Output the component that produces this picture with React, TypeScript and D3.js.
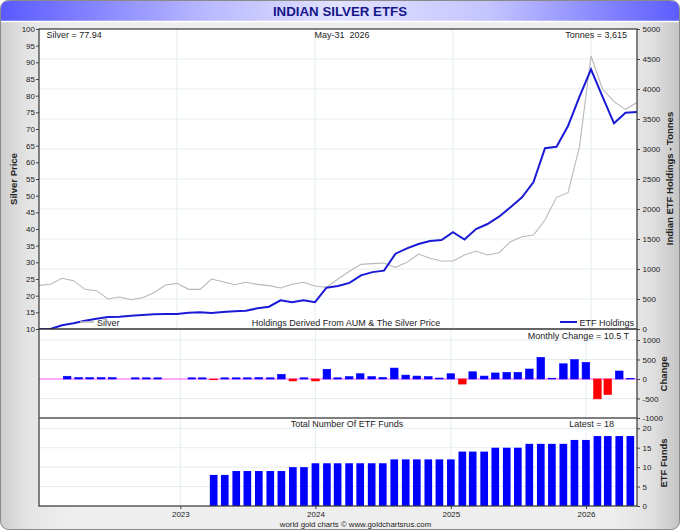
import React, { useEffect, useRef } from "react";
import {
    axisBottom,
    axisLeft,
    axisRight,
    line,
    range,
    scaleLinear,
    scalePoint,
    scaleTime,
    select,
    Selection,
    timeFormat,
} from "d3";

const WIDTH = 680;
const HEIGHT = 531;
const LEFT = 39;
const RIGHT = 637;
const TOP = 29;
const MAIN_BOTTOM = 329;
const CHANGE_BOTTOM = 418;
const FUNDS_BOTTOM = 506;
const FONT = "Arial, 'Liberation Sans', sans-serif";

// month-end values, Jan 2022 .. May 2026
const lineMonths = [
    "2022-01", "2022-02", "2022-03", "2022-04", "2022-05", "2022-06", "2022-07", "2022-08", "2022-09", "2022-10", "2022-11", "2022-12",
    "2023-01", "2023-02", "2023-03", "2023-04", "2023-05", "2023-06", "2023-07", "2023-08", "2023-09", "2023-10", "2023-11", "2023-12",
    "2024-01", "2024-02", "2024-03", "2024-04", "2024-05", "2024-06", "2024-07", "2024-08", "2024-09", "2024-10", "2024-11", "2024-12",
    "2025-01", "2025-02", "2025-03", "2025-04", "2025-05", "2025-06", "2025-07", "2025-08", "2025-09", "2025-10", "2025-11", "2025-12",
    "2026-01", "2026-02", "2026-03", "2026-04", "2026-05",
];

const silverPrice = [
    23.1, 23.4, 25.2, 24.5, 21.9, 21.5, 19.0, 19.6, 18.8, 19.4, 20.9, 23.2,
    23.7, 21.9, 21.9, 25.0, 24.2, 23.3, 24.0, 23.4, 23.0, 22.3, 23.4, 24.0,
    22.9, 22.5, 25.0, 27.3, 29.4, 29.6, 29.8, 28.5, 30.0, 32.5, 31.2, 30.4,
    30.4, 32.2, 33.4, 32.2, 32.9, 36.2, 37.7, 38.2, 42.7, 49.5, 50.9, 64.7,
    91.9, 82.0, 78.2, 75.9, 77.94,
];

const holdings = [
    0, 0, 62, 95, 138, 172, 200, 205, 222, 233, 245, 250,
    250, 272, 278, 267, 283, 295, 305, 345, 372, 478, 445, 480,
    448, 688, 717, 768, 895, 948, 972, 1255, 1345, 1417, 1467, 1483,
    1615, 1492, 1665, 1750, 1872, 2030, 2195, 2450, 3012, 3038, 3383, 3872,
    4328, 3872, 3428, 3605, 3615,
];

// Mar 2022 .. May 2026
const changeMonths = lineMonths.slice(2);
const monthlyChange = [
    70, 35, 35, 35, 35, 0, 30, 30, 30, 0,
    0, 30, 30, -20, 30, 30, 30, 35, 30, 120, -50, 30,
    -50, 250, 30, 60, 135, 60, 40, 280, 100, 75, 60, 25,
    135, -130, 185, 75, 155, 170, 170, 256, 555, 20, 390, 495,
    425, -510, -400, 205, 10.5,
];

// Apr 2023 .. May 2026
const fundMonths = lineMonths.slice(15);
const fundCount = [
    8, 8, 9, 9, 9, 9, 9, 10, 10,
    11, 11, 11, 11, 11, 11, 11, 12, 12, 12, 12, 12,
    12, 14, 14, 14, 15, 15, 15, 16, 16, 16, 16, 17,
    17, 18, 18, 18, 18,
];

const silverTicks = range(10, 101, 5);
const tonneTicks = range(0, 5001, 500);
const changeTicks = [-1000, -500, 0, 500, 1000];
const fundTicks = [0, 5, 10, 15, 20];
const yearTicks = ["2023-01", "2024-01", "2025-01", "2026-01"];

const toDate = (m: string) => new Date(+m.slice(0, 4), +m.slice(5, 7) - 1, 1);

const xLine = scalePoint<string>().domain(lineMonths).range([LEFT, RIGHT]);
const xTime = scaleTime()
    .domain([new Date(2021, 11, 15), new Date(2026, 4, 19)])
    .range([LEFT, RIGHT]);
const ySilver = scaleLinear().domain([10, 100]).range([MAIN_BOTTOM, TOP]);
const yTonnes = scaleLinear().domain([0, 5000]).range([MAIN_BOTTOM, TOP]);
const yChange = scaleLinear().domain([-1000, 1282]).range([CHANGE_BOTTOM, MAIN_BOTTOM]);
const yFunds = scaleLinear().domain([0, 22.65]).range([FUNDS_BOTTOM, CHANGE_BOTTOM]);

const BAR_W = ((xTime(toDate("2024-01")) - xTime(toDate("2023-01"))) / 12) * 0.68;

type G = Selection<SVGGElement, unknown, null, undefined>;

const styleAxis = (g: G) => {
    g.select(".domain").remove();
    g.selectAll("line").attr("stroke", "#444");
    g.selectAll("text").attr("fill", "#222").attr("font-size", 8).attr("font-family", FONT);
};

const App = () => {
    const axesRef = useRef<SVGGElement>(null);

    useEffect(() => {
        const g = select(axesRef.current) as G;
        g.selectAll("*").remove();

        const left = g.append("g").attr("transform", `translate(${LEFT},0)`);
        left.call(axisLeft(ySilver).tickValues(silverTicks).tickSize(3).tickPadding(1));
        styleAxis(left);

        const right = g.append("g").attr("transform", `translate(${RIGHT},0)`);
        right.call(axisRight(yTonnes).tickValues(tonneTicks).tickSize(3).tickPadding(2.5).tickFormat(d => String(d)));
        styleAxis(right);

        const rightChange = g.append("g").attr("transform", `translate(${RIGHT},0)`);
        rightChange.call(axisRight(yChange).tickValues(changeTicks).tickSize(3).tickPadding(2.5).tickFormat(d => String(d)));
        styleAxis(rightChange);

        const rightFunds = g.append("g").attr("transform", `translate(${RIGHT},0)`);
        rightFunds.call(axisRight(yFunds).tickValues(fundTicks).tickSize(3).tickPadding(2.5).tickFormat(d => String(d)));
        styleAxis(rightFunds);

        const bottom = g.append("g").attr("transform", `translate(0,${FUNDS_BOTTOM})`);
        bottom.call(
            axisBottom(xTime)
                .tickValues(yearTicks.map(toDate))
                .tickSize(3)
                .tickPadding(2)
                .tickFormat(d => timeFormat("%Y")(d as Date)),
        );
        styleAxis(bottom);
    }, []);

    const silverLine = line<number>()
        .x((_, i) => xLine(lineMonths[i]) as number)
        .y(d => ySilver(d));
    const holdingsLine = line<number>()
        .x((_, i) => xLine(lineMonths[i]) as number)
        .y(d => yTonnes(d));

    const gridColor = "#e3edf0";

    return (
        <svg
            width={WIDTH}
            height={HEIGHT}
            style={{ position: "absolute", left: 0, top: 0, fontFamily: FONT }}
        >
            <defs>
                <linearGradient id="bg" x1="0" x2="1" y1="0" y2="0">
                    <stop offset="0%" stopColor="#cdcdcd" />
                    <stop offset="4%" stopColor="#e4e4e4" />
                    <stop offset="10%" stopColor="#eeeeee" />
                    <stop offset="90%" stopColor="#eeeeee" />
                    <stop offset="96%" stopColor="#e0e0e0" />
                    <stop offset="100%" stopColor="#c4c4c4" />
                </linearGradient>
                <linearGradient id="titleBg" x1="0" x2="1" y1="0" y2="0">
                    <stop offset="0%" stopColor="#5a5aff" />
                    <stop offset="30%" stopColor="#b8b8ff" />
                    <stop offset="50%" stopColor="#e2e2ff" />
                    <stop offset="72%" stopColor="#c4c4ff" />
                    <stop offset="100%" stopColor="#5c5cff" />
                </linearGradient>
                <clipPath id="mainClip">
                    <rect x={LEFT} y={TOP} width={RIGHT - LEFT} height={MAIN_BOTTOM - TOP} />
                </clipPath>
            </defs>

            {/* frame */}
            <rect x={0.5} y={0.5} width={WIDTH - 1} height={HEIGHT - 2} rx={8} fill="url(#bg)" stroke="#8a8a8a" />
            <path
                d={`M1,21 L1,9 Q1,1 9,1 L${WIDTH - 9},1 Q${WIDTH - 1},1 ${WIDTH - 1},9 L${WIDTH - 1},21 Z`}
                fill="url(#titleBg)"
            />
            <line x1={1} x2={WIDTH - 1} y1={21.5} y2={21.5} stroke="#ffffff" strokeWidth={1.5} />
            <text x={340} y={15.5} textAnchor="middle" fontSize={13.3} fontWeight="bold" fill="#17178a">
                INDIAN SILVER ETFS
            </text>

            {/* panels */}
            <rect x={LEFT} y={TOP} width={RIGHT - LEFT} height={FUNDS_BOTTOM - TOP} fill="#ffffff" />

            {/* main grid */}
            {tonneTicks.slice(1, -1).map(t => (
                <line key={`hg${t}`} x1={LEFT} x2={RIGHT} y1={yTonnes(t)} y2={yTonnes(t)} stroke={gridColor} />
            ))}
            {yearTicks.map(m => (
                <line key={`vg${m}`} x1={xLine(m)} x2={xLine(m)} y1={TOP} y2={MAIN_BOTTOM} stroke={gridColor} />
            ))}

            {/* lower grids */}
            {[-500, 500, 1000].map(t => (
                <line key={`cg${t}`} x1={LEFT} x2={RIGHT} y1={yChange(t)} y2={yChange(t)} stroke={gridColor} />
            ))}
            {fundTicks.slice(1).map(t => (
                <line key={`fg${t}`} x1={LEFT} x2={RIGHT} y1={yFunds(t)} y2={yFunds(t)} stroke={gridColor} />
            ))}
            {yearTicks.map(m => (
                <line
                    key={`lvg${m}`}
                    x1={xTime(toDate(m))}
                    x2={xTime(toDate(m))}
                    y1={MAIN_BOTTOM}
                    y2={FUNDS_BOTTOM}
                    stroke={gridColor}
                />
            ))}

            {/* main lines */}
            <g clipPath="url(#mainClip)">
                <path d={silverLine(silverPrice) ?? ""} fill="none" stroke="#b8b8b8" strokeWidth={1.1} />
                <path d={holdingsLine(holdings) ?? ""} fill="none" stroke="#1a1ad6" strokeWidth={2} />
            </g>

            {/* monthly change */}
            <line x1={LEFT} x2={RIGHT} y1={yChange(0)} y2={yChange(0)} stroke="#ff8cff" strokeWidth={1.5} />
            {monthlyChange.map((v, i) => {
                if (v === 0) return null;
                const cx = xTime(toDate(changeMonths[i]));
                const y0 = yChange(0);
                const y1 = yChange(v);
                const col = v < 0 ? "#ff0000" : "#0000ff";
                return (
                    <rect
                        key={`c${i}`}
                        x={cx - BAR_W / 2}
                        y={Math.min(y0, y1)}
                        width={BAR_W}
                        height={Math.abs(y1 - y0)}
                        fill={col}
                        stroke={col}
                        strokeWidth={0.6}
                    />
                );
            })}

            {/* funds */}
            {fundCount.map((v, i) => {
                const cx = xTime(toDate(fundMonths[i]));
                return (
                    <rect
                        key={`f${i}`}
                        x={cx - BAR_W / 2}
                        y={yFunds(v)}
                        width={BAR_W}
                        height={yFunds(0) - yFunds(v)}
                        fill="#0000ff"
                    />
                );
            })}

            {/* borders */}
            <rect x={LEFT} y={TOP} width={RIGHT - LEFT} height={FUNDS_BOTTOM - TOP} fill="none" stroke="#333" strokeWidth={1.2} />
            <line x1={LEFT} x2={RIGHT} y1={MAIN_BOTTOM} y2={MAIN_BOTTOM} stroke="#333" strokeWidth={1.3} />
            <line x1={LEFT} x2={RIGHT} y1={CHANGE_BOTTOM} y2={CHANGE_BOTTOM} stroke="#555" strokeWidth={1.3} />

            <g ref={axesRef} />

            {/* in-panel texts */}
            <g fontSize={9} fill="#222">
                <text x={46.5} y={37.5}>Silver = 77.94</text>
                <text x={342} y={37.5} textAnchor="middle" style={{ whiteSpace: "pre" }}>May-31  2026</text>
                <text x={627} y={37.5} textAnchor="end">Tonnes = 3,615</text>

                <line x1={80} x2={94} y1={322} y2={322} stroke="#b8b8b8" strokeWidth={1.5} />
                <text x={97} y={325.5}>Silver</text>
                <text x={346} y={325.5} textAnchor="middle">Holdings Derived From AUM &amp; The Silver Price</text>
                <line x1={560} x2={577} y1={322} y2={322} stroke="#1a1ad6" strokeWidth={2} />
                <text x={634} y={325.5} textAnchor="end">ETF Holdings</text>

                <text x={629} y={338.5} textAnchor="end">Monthly Change = 10.5 T</text>
                <text x={347} y={427} textAnchor="middle">Total Number Of ETF Funds</text>
                <text x={614} y={427} textAnchor="end">Latest = 18</text>
            </g>

            {/* axis titles */}
            <g fontSize={9.5} fontWeight="bold" fill="#222" textAnchor="middle">
                <text transform={`translate(16.5,179) rotate(-90)`}>Silver Price</text>
                <text transform={`translate(673,178.5) rotate(-90)`}>Indian ETF Holdings - Tonnes</text>
                <text transform={`translate(667,374) rotate(-90)`}>Change</text>
                <text transform={`translate(667,463) rotate(-90)`}>ETF Funds</text>
            </g>

            <text x={355.5} y={526.5} textAnchor="middle" fontSize={7.8} fill="#222">
                world gold charts © www.goldchartsrus.com
            </text>
        </svg>
    );
};

export default App;
